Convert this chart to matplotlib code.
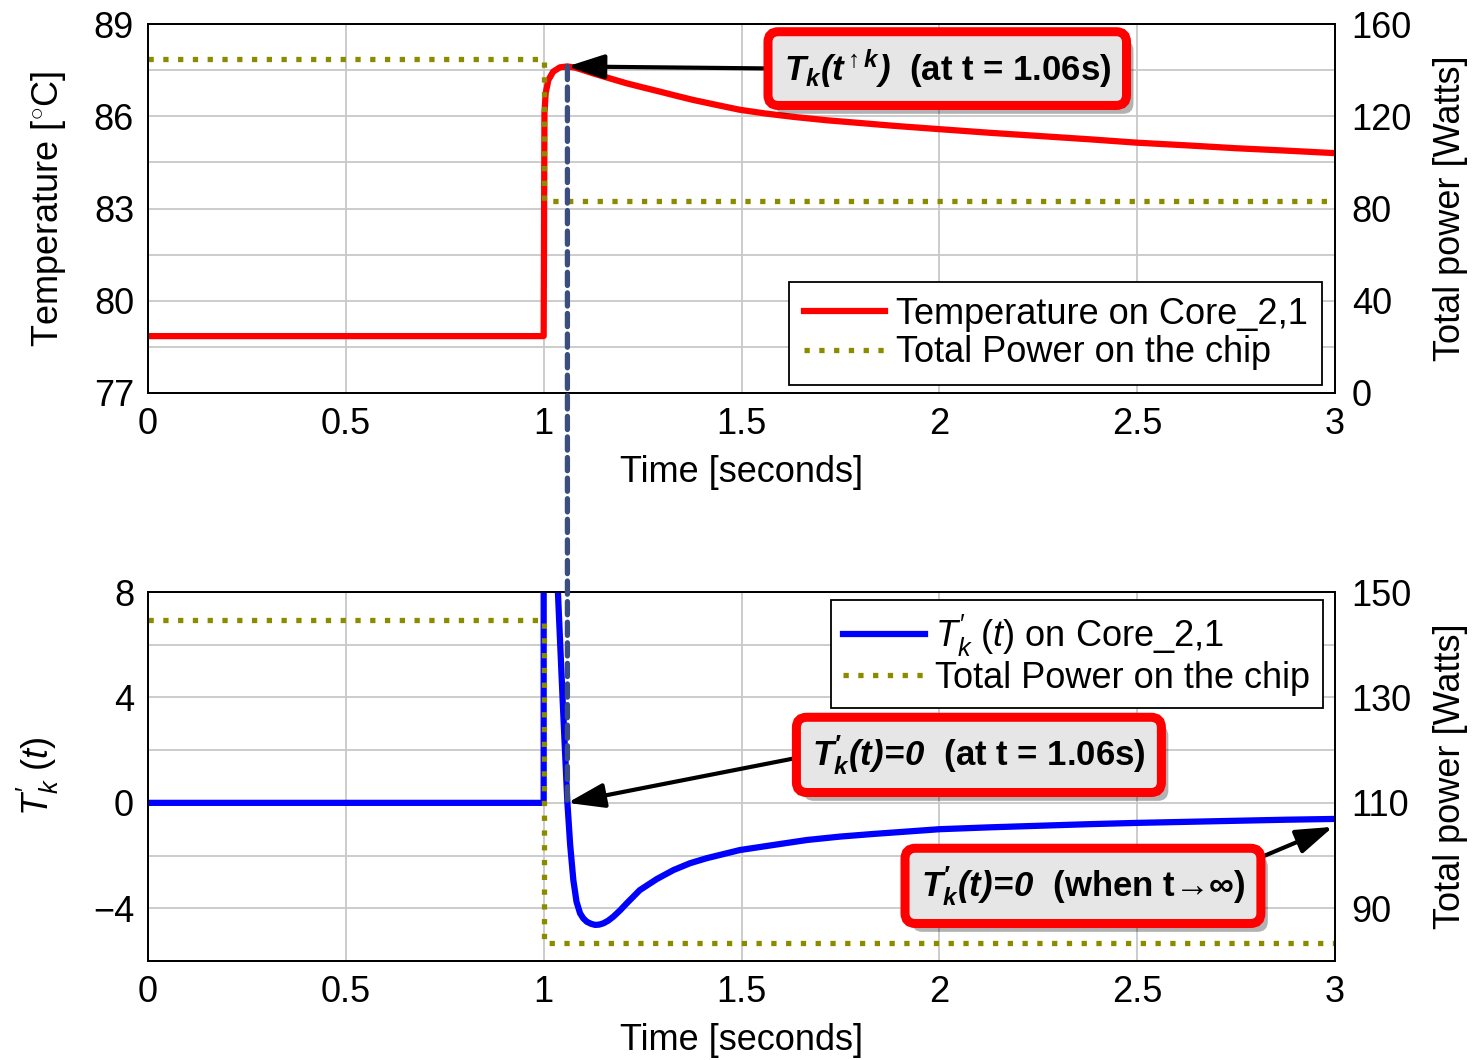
import matplotlib
matplotlib.use("Agg")
import matplotlib.pyplot as plt
import matplotlib.patheffects as pe
from matplotlib.patches import ConnectionPatch

plt.rcParams['font.family'] = ['Liberation Sans', 'DejaVu Sans']
plt.rcParams['mathtext.fontset'] = 'custom'
plt.rcParams['mathtext.rm'] = 'Liberation Sans'
plt.rcParams['mathtext.it'] = 'Liberation Sans:italic'
plt.rcParams['mathtext.bf'] = 'Liberation Sans:bold'
plt.rcParams['mathtext.bfit'] = 'Liberation Sans:bold:italic'

# ---------------- data ----------------
time_temp = [0.0, 1.0, 1.002, 1.005, 1.012, 1.024, 1.041, 1.06, 1.08, 1.1, 1.126,
             1.165, 1.21, 1.25, 1.294, 1.34, 1.378, 1.44, 1.496, 1.56, 1.631,
             1.715, 1.8, 1.884, 2.0, 2.13, 2.25, 2.38, 2.5, 2.63, 2.75, 2.88, 3.0]
temp = [78.85, 78.85, 86.10, 86.75, 87.18, 87.45, 87.59, 87.62, 87.58, 87.50, 87.39,
        87.24, 87.07, 86.94, 86.80, 86.65, 86.53, 86.36, 86.21, 86.09, 85.98,
        85.87, 85.78, 85.69, 85.58, 85.46, 85.36, 85.25, 85.14, 85.05, 84.96, 84.88, 84.80]

time_deriv = [0.0, 1.0, 1.0005, 1.02, 1.036, 1.048, 1.06, 1.067, 1.075, 1.083, 1.092,
              1.1, 1.109, 1.12, 1.13, 1.14, 1.151, 1.163, 1.176, 1.193, 1.21, 1.243,
              1.286, 1.328, 1.37, 1.412, 1.496, 1.58, 1.665, 1.749, 1.833, 1.917,
              2.0, 2.125, 2.25, 2.375, 2.5, 2.625, 2.75, 2.875, 3.0]
deriv = [0.0, 0.0, 400.0, 60.0, 8.0, 3.9, 0.0, -1.6, -2.93, -3.75, -4.19,
         -4.38, -4.51, -4.59, -4.63, -4.62, -4.57, -4.47, -4.32, -4.08, -3.81, -3.31,
         -2.89, -2.55, -2.29, -2.10, -1.79, -1.60, -1.41, -1.28, -1.18, -1.09,
         -1.00, -0.93, -0.87, -0.81, -0.76, -0.72, -0.68, -0.64, -0.61]

time_power = [0.0, 1.0, 1.0, 3.0]
power = [144.7, 144.7, 83.4, 83.4]

t_peak = 1.06
temp_peak = 87.62

x_ticks = [0, 0.5, 1, 1.5, 2, 2.5, 3]
x_ticklabels = ['0', '0.5', '1', '1.5', '2', '2.5', '3']
temp_ticks = [77, 80, 83, 86, 89]
temp_minor = [78.5, 81.5, 84.5, 87.5]
ptop_ticks = [0, 40, 80, 120, 160]
der_ticks = [-4, 0, 4, 8]
der_minor = [-2, 2, 6]
pbot_ticks = [90, 110, 130, 150]

# ---------------- styles ----------------
RED = '#ff0000'
BLUE = '#0000ff'
OLIVE = '#8b8b00'
DASH = '#3b4e7e'
FS = 26
LW = 4.5
DOT = dict(color=OLIVE, lw=3.8, ls=(0, (1, 1.8)), dash_capstyle='butt')

fig = plt.figure(figsize=(14.74, 10.60), dpi=100)
W, H = 1474, 1060
def rect(l, t, r, b):
    return [l / W, 1 - b / H, (r - l) / W, (b - t) / H]

ax1 = fig.add_axes(rect(148, 24, 1335, 393))
ax2 = fig.add_axes(rect(148, 592, 1335, 961))

def style(ax):
    ax.grid(True, which='both', color='#c8c8c8', lw=1.3)
    ax.set_axisbelow(True)
    for s in ax.spines.values():
        s.set_linewidth(1.3)
    ax.tick_params(which='both', direction='in', length=0, labelsize=FS, pad=10)

# ---- top ----
l_temp, = ax1.plot(time_temp, temp, color=RED, lw=LW, solid_joinstyle='round')
ax1.set_xlim(0, 3)
ax1.set_ylim(77, 89)
ax1.set_xticks(x_ticks)
ax1.set_xticklabels(x_ticklabels)
ax1.set_yticks(temp_ticks)
ax1.set_yticks(temp_minor, minor=True)
style(ax1)
ax1.set_xlabel('Time [seconds]', fontsize=FS)
ax1.xaxis.set_label_coords(0.5, (393 - 473) / 369)
ax1.xaxis.label.set_va('center')
ax1.set_ylabel(r'Temperature [$^{\circ}$C]', fontsize=FS)
ax1.yaxis.set_label_coords((48 - 148) / 1187, 0.5)
ax1.yaxis.label.set_va('center')

ax1r = ax1.twinx()
l_pow1, = ax1r.plot(time_power, power, **DOT)
ax1r.set_ylim(0, 160)
ax1r.set_yticks(ptop_ticks)
ax1r.tick_params(direction='in', length=0, labelsize=FS, pad=12)
ax1r.set_ylabel('Total power [Watts]', fontsize=FS)
ax1r.yaxis.set_label_coords((1450 - 148) / 1187, 0.5)
ax1r.yaxis.label.set_va('center')
for s in ax1r.spines.values():
    s.set_linewidth(1.3)

leg1 = ax1r.legend([l_temp, l_pow1], ['Temperature on Core_2,1', 'Total Power on the chip'],
                   loc='lower right', bbox_to_anchor=(0.989, 0.022), borderaxespad=0,
                   fontsize=FS, handlelength=2.25, handletextpad=0.3, labelspacing=0.1,
                   borderpad=0.4, fancybox=False, framealpha=1, edgecolor='black')
leg1.get_frame().set_linewidth(1.3)

# ---- bottom ----
l_der, = ax2.plot(time_deriv, deriv, color=BLUE, lw=LW, solid_joinstyle='round')
ax2.set_xlim(0, 3)
ax2.set_ylim(-6, 8)
ax2.set_xticks(x_ticks)
ax2.set_xticklabels(x_ticklabels)
ax2.set_yticks(der_ticks)
ax2.set_yticks(der_minor, minor=True)
style(ax2)
ax2.set_xlabel('Time [seconds]', fontsize=FS)
ax2.xaxis.set_label_coords(0.5, (961 - 1040) / 369)
ax2.xaxis.label.set_va('center')
ax2.set_ylabel(r"$T^{\prime}_{k}\ (t)$", fontsize=FS)
ax2.yaxis.set_label_coords((38 - 148) / 1187, 0.5)
ax2.yaxis.label.set_va('center')

ax2r = ax2.twinx()
l_pow2, = ax2r.plot(time_power, power, **DOT)
ax2r.set_ylim(80, 150)
ax2r.set_yticks(pbot_ticks)
ax2r.tick_params(direction='in', length=0, labelsize=FS, pad=12)
ax2r.set_ylabel('Total power [Watts]', fontsize=FS)
ax2r.yaxis.set_label_coords((1450 - 148) / 1187, 0.5)
ax2r.yaxis.label.set_va('center')
for s in ax2r.spines.values():
    s.set_linewidth(1.3)

leg2 = ax2r.legend([l_der, l_pow2], [r"$T^{\prime}_{k}\ (t)$ on Core_2,1", 'Total Power on the chip'],
                   loc='upper right', bbox_to_anchor=(0.990, 0.978), borderaxespad=0,
                   fontsize=FS, handlelength=2.25, handletextpad=0.3, labelspacing=0.05,
                   borderpad=0.35, fancybox=False, framealpha=1, edgecolor='black')
leg2.get_frame().set_linewidth(1.3)

# ---- dashed connector ----
con = ConnectionPatch(xyA=(t_peak, temp_peak), coordsA=ax1.transData,
                      xyB=(t_peak, 0), coordsB=ax2.transData,
                      color=DASH, lw=3.8, ls=(0, (2.5, 1.4)), zorder=20)
fig.add_artist(con)

# ---- callouts ----
box = dict(boxstyle='round,pad=0.45,rounding_size=0.3', fc='#e6e6e6', ec=RED, lw=6.5)
arrow = dict(arrowstyle='-|>,head_length=0.9,head_width=0.3', color='black', lw=3,
             mutation_scale=25, shrinkA=0, shrinkB=0)

def callout(ax, text, xy, xycoords, xytext, relpos):
    a = dict(arrow)
    a['relpos'] = relpos
    an = ax.annotate(text, xy=xy, xycoords=xycoords, xytext=xytext, textcoords=xycoords,
                     fontsize=25, fontweight='bold', ha='center', va='center',
                     bbox=box, arrowprops=a, zorder=30, annotation_clip=False)
    an.get_bbox_patch().set_path_effects([
        pe.SimplePatchShadow(offset=(5, -6), shadow_rgbFace='black', alpha=0.3), pe.Normal()])
    return an

callout(ax1r, r"$\mathbfit{T_k(t^{\uparrow k})}$  (at t = 1.06s)",
        (t_peak, temp_peak), ax1.transData, (2.02, 87.55), (0, 0.5))
callout(ax2r, r"$\mathbfit{T^{\prime}_{k}(t)\!=\!0}$  (at t = 1.06s)",
        (t_peak, 0), ax2.transData, (2.10, 1.82), (0, 0.5))
callout(ax2r, r"$\mathbfit{T^{\prime}_{k}(t)\!=\!0}$  (when t→∞)",
        (2.995, -0.91), ax2.transData, (2.363, -3.15), (1, 1))

fig.savefig('out.png', dpi=100)
